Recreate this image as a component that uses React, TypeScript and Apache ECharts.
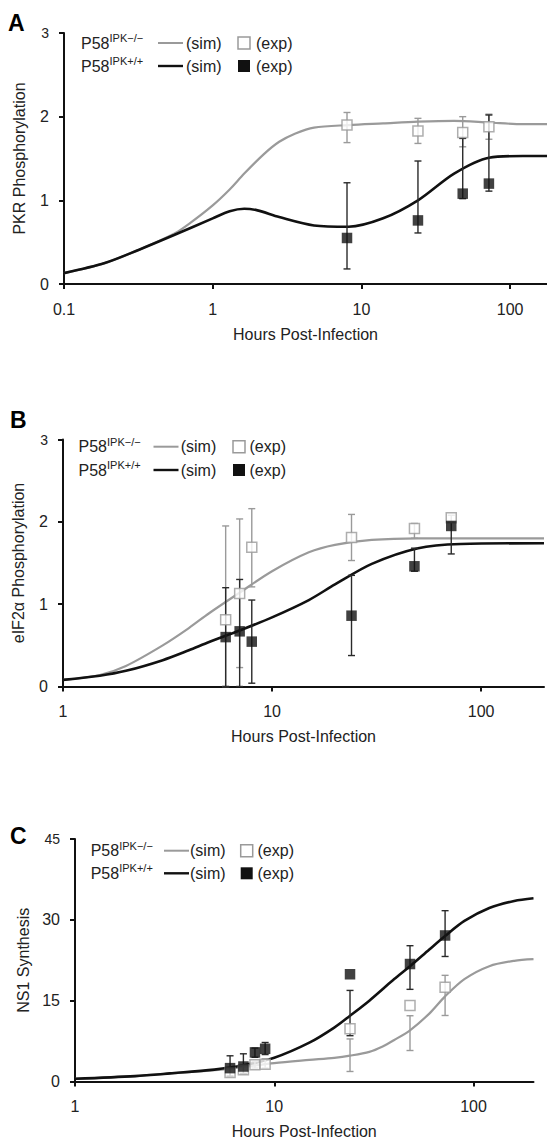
import React, { useEffect, useRef } from "react";
import * as echarts from "echarts";

const FONT = '"Liberation Sans", Arial, Helvetica, sans-serif';
const GRAY = "#9a9a9a";
const BLACK = "#111111";
const TXT = "#222222";

// ---------- Panel A: PKR phosphorylation ----------
const aSimKoHours = [0.1, 0.188, 0.32, 0.55, 0.7, 1.0, 1.3, 1.63, 2.2, 2.8, 3.6, 4.8, 8.2, 14, 24, 42, 72, 122, 177];
const aSimKoValues = [0.13, 0.25, 0.41, 0.6, 0.725, 0.94, 1.13, 1.32, 1.55, 1.7, 1.8, 1.87, 1.9, 1.92, 1.94, 1.95, 1.93, 1.91, 1.91];
const aSimWtHours = [0.1, 0.188, 0.32, 0.55, 1.0, 1.3, 1.63, 2.0, 2.8, 4.8, 8.2, 14, 24, 42, 72, 122, 177];
const aSimWtValues = [0.13, 0.25, 0.41, 0.585, 0.785, 0.87, 0.9, 0.88, 0.8, 0.7, 0.685, 0.785, 1.0, 1.32, 1.51, 1.53, 1.53];
const aExpHours = [8, 24, 48, 72];
const aExpKo = [1.9, 1.83, 1.81, 1.88];
const aExpKoLow = [1.69, 1.68, 1.64, 1.73];
const aExpKoHigh = [2.05, 1.98, 2.0, 2.03];
const aExpWt = [0.55, 0.76, 1.08, 1.2];
const aExpWtLow = [0.18, 0.61, 1.02, 1.11];
const aExpWtHigh = [1.21, 1.47, 1.74, 2.02];

// ---------- Panel B: eIF2a phosphorylation ----------
const bSimKoHours = [1, 1.5, 2, 3, 4, 5, 7, 10, 15, 20, 30, 50, 200];
const bSimKoValues = [0.08, 0.14, 0.25, 0.5, 0.71, 0.89, 1.14, 1.4, 1.63, 1.72, 1.78, 1.8, 1.8];
const bSimWtHours = [1, 1.5, 2, 3, 4, 5, 7, 10, 15, 20, 30, 50, 80, 200];
const bSimWtValues = [0.08, 0.13, 0.19, 0.32, 0.44, 0.54, 0.68, 0.84, 1.05, 1.24, 1.49, 1.68, 1.73, 1.74];
const bExpHours = [6, 7, 8, 24, 48, 72];
const bExpKo = [0.81, 1.13, 1.69, 1.81, 1.92, 2.05];
const bExpKoLow = [0, 0.23, 1.21, 1.53, 1.8, 2.0];
const bExpKoHigh = [1.95, 2.035, 2.16, 2.09, 1.98, 2.08];
const bExpWt = [0.6, 0.67, 0.545, 0.86, 1.46, 1.95];
const bExpWtLow = [0, 0, 0.04, 0.376, 1.4, 1.61];
const bExpWtHigh = [1.2, 1.3, 1.05, 1.35, 1.68, 2.0];

// ---------- Panel C: NS1 synthesis ----------
const cSimKoHours = [1, 2, 3, 5, 7, 10, 15, 20, 24, 30, 35, 40, 48, 60, 72, 90, 120, 160, 200];
const cSimKoValues = [0.5, 1.0, 1.5, 2.1, 2.7, 3.4, 4.0, 4.4, 4.8, 5.5, 6.5, 7.7, 9.5, 12.6, 15.8, 19.0, 21.4, 22.4, 22.7];
const cSimWtHours = [1, 2, 3, 5, 7, 10, 15, 20, 24, 30, 40, 48, 60, 72, 90, 120, 160, 200];
const cSimWtValues = [0.5, 1.0, 1.5, 2.2, 3.0, 4.4, 7.2, 10.0, 12.2, 15.0, 19.0, 21.4, 24.5, 27.0, 29.8, 32.2, 33.5, 34.0];
const cExpHours = [6, 7, 8, 9, 24, 48, 72];
const cExpKo = [1.67, 2.17, 3.1, 3.2, 9.78, 14.1, 17.5];
const cExpKoLow = [1.0, 1.5, 2.5, 2.5, 1.86, 5.75, 12.25];
const cExpKoHigh = [2.5, 3.0, 3.7, 4.2, 7.9, 12.2, 19.7];
const cExpWt = [2.48, 2.78, 5.4, 6.07, 19.9, 21.8, 27.1];
const cExpWtLow = [1.0, 1.5, 4.5, 5.0, 8.5, 17.1, 23.2];
const cExpWtHigh = [4.77, 5.14, 6.2, 7.24, 16.9, 25.2, 31.7];

const xTitle = "Hours Post-Infection";
const yTitles = ["PKR Phosphorylation", "eIF2α Phosphorylation", "NS1 Synthesis"];
const panelLetters = ["A", "B", "C"];
const yMax = [3, 3, 45];
const yInterval = [1, 1, 15];
const xMin = [0.1, 1, 1];
const xMax = [177, 200, 200];

// layout (pixels)
const grids = [
  { left: 64, top: 33, width: 483, height: 251 },
  { left: 63, top: 439.5, width: 481, height: 247 },
  { left: 75, top: 839, width: 458.5, height: 242.5 },
];
const legendPos = [
  { px: 81, y1: 43, y2: 66, lx: 158, sx: 186, qx: 238, ex: 256 },
  { px: 78.5, y1: 446.7, y2: 470, lx: 153.5, sx: 180.7, qx: 233, ex: 249.5 },
  { px: 90.7, y1: 850.7, y2: 873.3, lx: 164, sx: 190, qx: 240.7, ex: 257.5 },
];
const letterPos = [
  { x: 8, y: 23 },
  { x: 10, y: 420 },
  { x: 10, y: 836 },
];

const zip2 = (a: number[], b: number[]) => a.map((v, i) => [v, b[i]]);
const zip3 = (a: number[], b: number[], c: number[]) => a.map((v, i) => [v, b[i], c[i]]);

function fmtLog(v: number) {
  if (v < 1) return String(+v.toPrecision(2));
  return String(Math.round(v));
}

function errSeries(idx: number, data: number[][], color: string) {
  return {
    type: "custom",
    xAxisIndex: idx,
    yAxisIndex: idx,
    z: 3,
    encode: { x: 0, y: [1, 2] },
    data,
    renderItem: (params: any, api: any) => {
      const x = api.value(0);
      const lo = api.value(1);
      const hi = api.value(2);
      const pt = api.coord([x, hi]);
      const pb = api.coord([x, lo]);
      const cw = 3.5;
      const st = { stroke: color, lineWidth: 1.4 };
      return {
        type: "group",
        children: [
          { type: "line", shape: { x1: pt[0], y1: pt[1], x2: pb[0], y2: pb[1] }, style: st },
          { type: "line", shape: { x1: pt[0] - cw, y1: pt[1], x2: pt[0] + cw, y2: pt[1] }, style: st },
          { type: "line", shape: { x1: pb[0] - cw, y1: pb[1], x2: pb[0] + cw, y2: pb[1] }, style: st },
        ],
      };
    },
  };
}

function buildOption() {
  const sims = [
    [zip2(aSimKoHours, aSimKoValues), zip2(aSimWtHours, aSimWtValues)],
    [zip2(bSimKoHours, bSimKoValues), zip2(bSimWtHours, bSimWtValues)],
    [zip2(cSimKoHours, cSimKoValues), zip2(cSimWtHours, cSimWtValues)],
  ];
  const exps = [
    [zip2(aExpHours, aExpKo), zip2(aExpHours, aExpWt), zip3(aExpHours, aExpKoLow, aExpKoHigh), zip3(aExpHours, aExpWtLow, aExpWtHigh)],
    [zip2(bExpHours, bExpKo), zip2(bExpHours, bExpWt), zip3(bExpHours, bExpKoLow, bExpKoHigh), zip3(bExpHours, bExpWtLow, bExpWtHigh)],
    [zip2(cExpHours, cExpKo), zip2(cExpHours, cExpWt), zip3(cExpHours, cExpKoLow, cExpKoHigh), zip3(cExpHours, cExpWtLow, cExpWtHigh)],
  ];

  const axisLineStyle = { color: BLACK, width: 2 };
  const xAxis: any[] = [];
  const yAxis: any[] = [];
  const series: any[] = [];
  const graphic: any[] = [];

  for (let i = 0; i < 3; i++) {
    xAxis.push({
      type: "log",
      logBase: 10,
      gridIndex: i,
      min: xMin[i],
      max: xMax[i],
      name: xTitle,
      nameLocation: "middle",
      nameGap: 42,
      nameTextStyle: { fontSize: 16, color: TXT, fontFamily: FONT },
      axisLine: { show: true, lineStyle: axisLineStyle },
      axisTick: { show: true, length: 5, lineStyle: { color: BLACK, width: 2 } },
      axisLabel: {
        fontSize: 16,
        color: TXT,
        fontFamily: FONT,
        margin: 17,
        showMaxLabel: false,
        formatter: (v: number) => fmtLog(v),
      },
      splitLine: { show: false },
      minorTick: { show: false },
    });
    const top = yMax[i];
    yAxis.push({
      type: "value",
      gridIndex: i,
      min: 0,
      max: yMax[i],
      interval: yInterval[i],
      name: yTitles[i],
      nameLocation: "middle",
      nameRotate: 90,
      nameGap: i === 2 ? 40 : 37,
      nameTextStyle: { fontSize: 16, color: TXT, fontFamily: FONT },
      axisLine: { show: true, lineStyle: axisLineStyle },
      axisTick: { show: true, length: 5, lineStyle: { color: BLACK, width: 2 } },
      axisLabel: {
        fontSize: 16,
        color: TXT,
        fontFamily: FONT,
        margin: 15,
        formatter: (v: number) => (v === top ? "{s|" + v + "}" : String(v)),
        rich: { s: { fontSize: 14, color: TXT, fontFamily: FONT } },
      },
      splitLine: { show: false },
    });

    const [simKo, simWt] = sims[i];
    const [expKo, expWt, errKo, errWt] = exps[i];
    series.push({
      type: "line",
      xAxisIndex: i,
      yAxisIndex: i,
      data: simKo,
      showSymbol: false,
      smooth: 0.3,
      z: 2,
      lineStyle: { color: GRAY, width: 2.2 },
    });
    series.push({
      type: "line",
      xAxisIndex: i,
      yAxisIndex: i,
      data: simWt,
      showSymbol: false,
      smooth: 0.3,
      z: 2,
      lineStyle: { color: BLACK, width: 2.6 },
    });
    series.push(errSeries(i, errKo, GRAY));
    series.push(errSeries(i, errWt, "#2a2a2a"));
    series.push({
      type: "scatter",
      xAxisIndex: i,
      yAxisIndex: i,
      data: expKo,
      symbol: "rect",
      symbolSize: 10,
      z: 4,
      itemStyle: { color: "#ffffff", borderColor: GRAY, borderWidth: 1.5 },
    });
    series.push({
      type: "scatter",
      xAxisIndex: i,
      yAxisIndex: i,
      data: expWt,
      symbol: "rect",
      symbolSize: 10.5,
      z: 4,
      itemStyle: { color: BLACK },
    });

    // legend
    const L = legendPos[i];
    const rows = [
      { y: L.y1, sup: "IPK−/−", color: GRAY, filled: false },
      { y: L.y2, sup: "IPK+/+", color: BLACK, filled: true },
    ];
    rows.forEach((r) => {
      graphic.push({
        type: "text",
        x: L.px,
        y: r.y,
        style: { text: "P58", fontSize: 16, fontFamily: FONT, fill: TXT, verticalAlign: "middle", align: "left" },
      });
      graphic.push({
        type: "text",
        x: L.px + 28.5,
        y: r.y - 5,
        style: { text: r.sup, fontSize: 11, fontFamily: FONT, fill: TXT, verticalAlign: "middle", align: "left" },
      });
      graphic.push({
        type: "line",
        shape: { x1: L.lx, y1: r.y, x2: L.lx + 25, y2: r.y },
        style: { stroke: r.color, lineWidth: r.filled ? 2.4 : 2 },
      });
      graphic.push({
        type: "text",
        x: L.sx,
        y: r.y,
        style: { text: "(sim)", fontSize: 16, fontFamily: FONT, fill: TXT, verticalAlign: "middle", align: "left" },
      });
      graphic.push({
        type: "rect",
        shape: { x: L.qx, y: r.y - 6, width: 12, height: 12 },
        style: r.filled ? { fill: BLACK } : { fill: "#fff", stroke: GRAY, lineWidth: 1.5 },
      });
      graphic.push({
        type: "text",
        x: L.ex,
        y: r.y,
        style: { text: "(exp)", fontSize: 16, fontFamily: FONT, fill: TXT, verticalAlign: "middle", align: "left" },
      });
    });
    graphic.push({
      type: "text",
      x: letterPos[i].x,
      y: letterPos[i].y,
      style: {
        text: panelLetters[i],
        fontSize: 23,
        fontWeight: "bold",
        fontFamily: FONT,
        fill: "#000",
        verticalAlign: "middle",
        align: "left",
      },
    });
  }

  return {
    animation: false,
    backgroundColor: "#ffffff",
    grid: grids.map((g) => ({ ...g, containLabel: false })),
    xAxis,
    yAxis,
    series,
    graphic,
  };
}

export default function App() {
  const ref = useRef<HTMLDivElement>(null);
  useEffect(() => {
    if (!ref.current) return;
    const chart = echarts.init(ref.current, undefined, { renderer: "svg" });
    chart.setOption(buildOption() as any);
    return () => chart.dispose();
  }, []);
  return (
    <div
      ref={ref}
      style={{ position: "absolute", left: 0, top: 0, width: 547, height: 1142, background: "#fff" }}
    />
  );
}
